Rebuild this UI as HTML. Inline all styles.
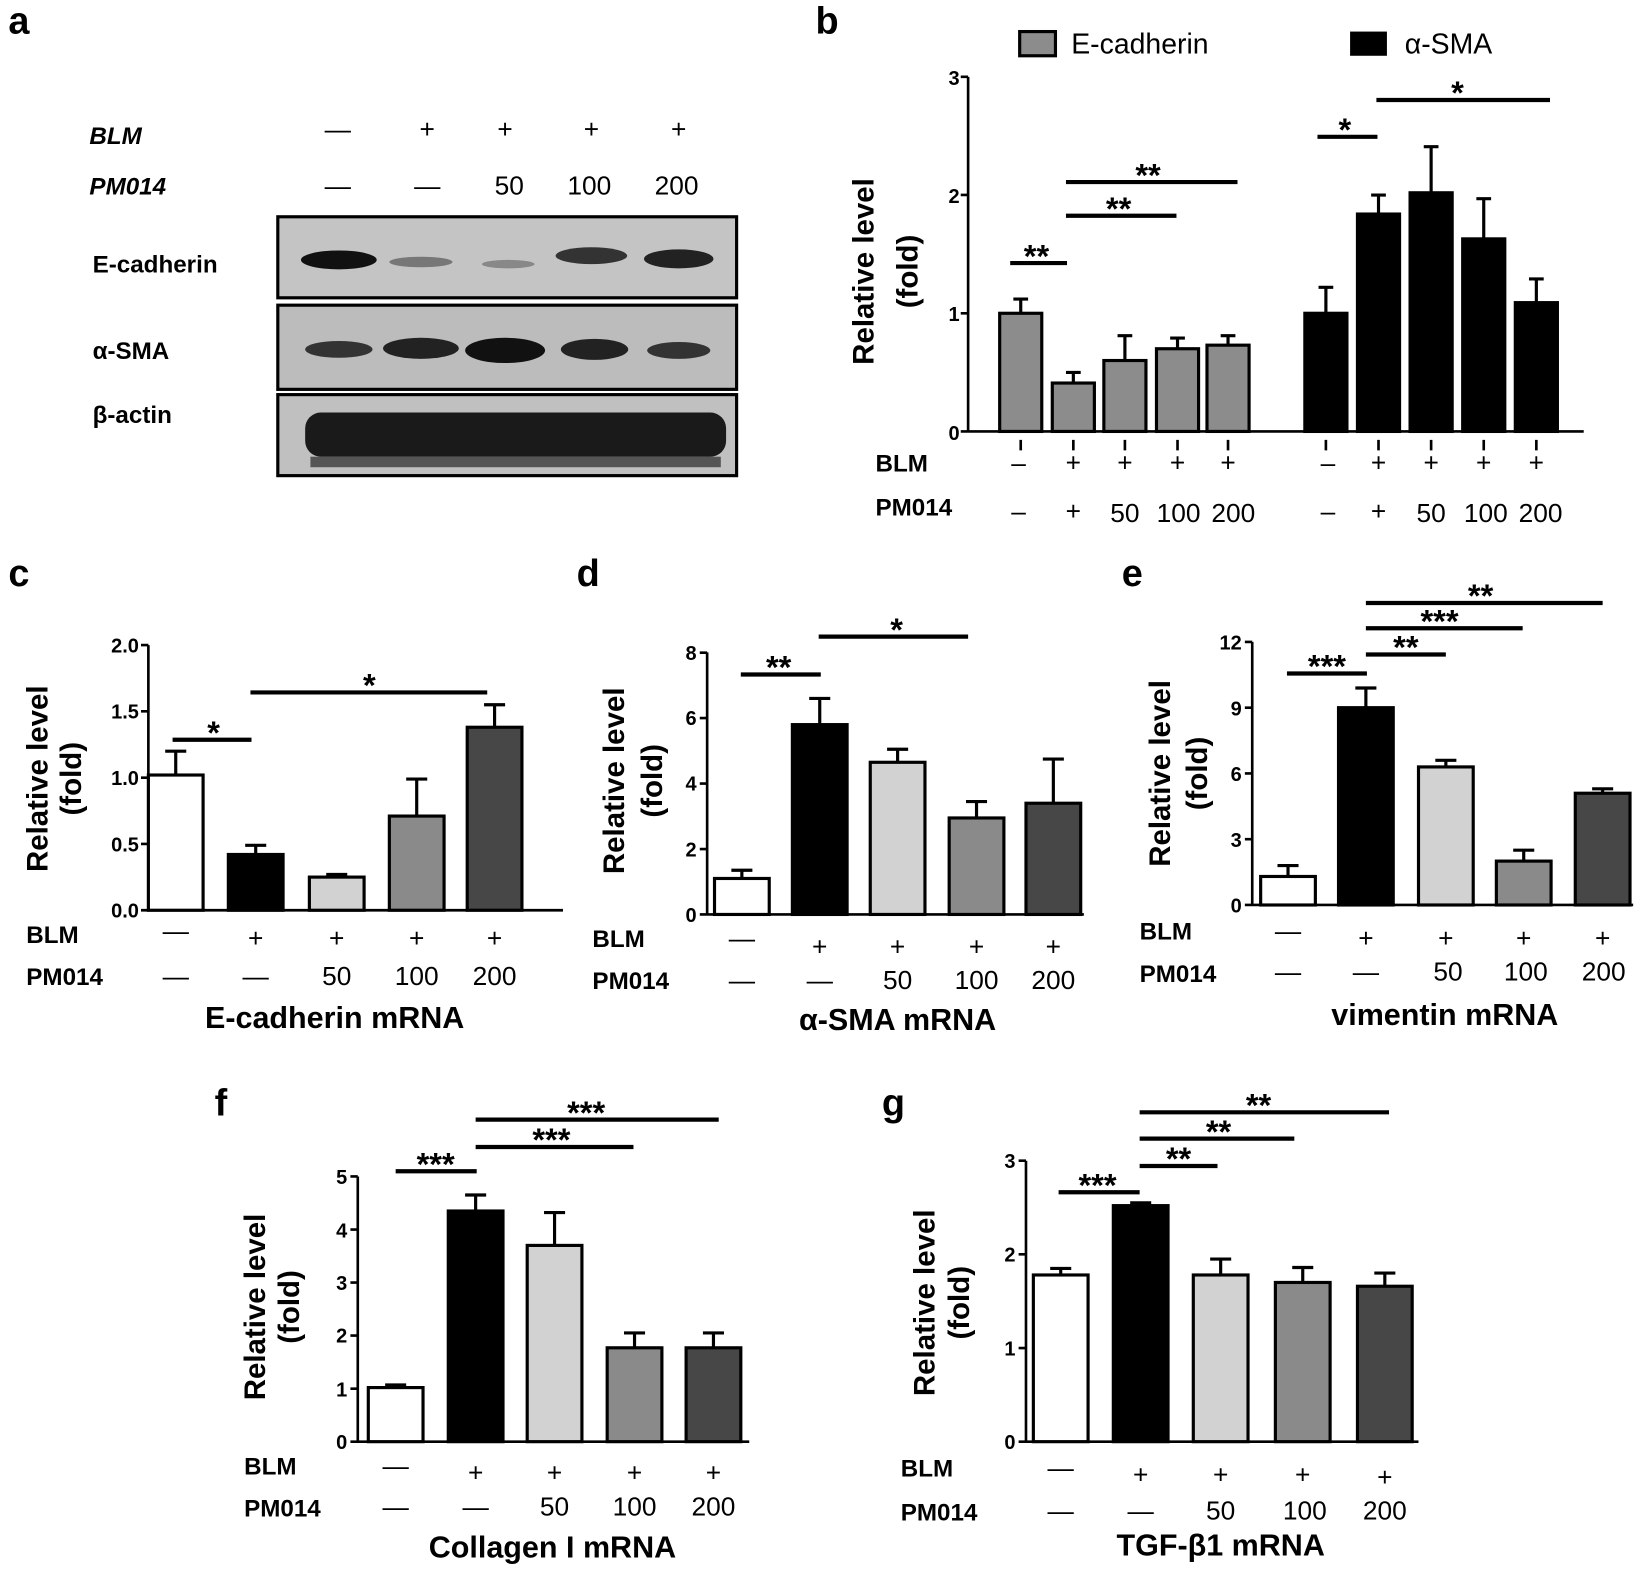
<!DOCTYPE html><html><head><style>
html,body{margin:0;padding:0;background:#fff}
svg{display:block}
text{font-family:"Liberation Sans",sans-serif;fill:#000}
.L{font-size:36px;font-weight:bold}
.R{font-size:23px;font-weight:bold}
.t{font-size:19px;font-weight:bold}
.n{font-size:25px}
.T{font-size:29px;font-weight:bold}
.Y{font-size:28px;font-weight:bold}
.s{font-size:31px;font-weight:bold}
</style></head><body>
<svg width="1650" height="1569" viewBox="0 0 1568 1491" preserveAspectRatio="none" xmlns="http://www.w3.org/2000/svg">
<!-- panel a -->
<text class="L" x="8" y="32">a</text>
<text class="R" x="85" y="137" font-style="italic" font-size="27">BLM</text>
<text class="R" x="85" y="185" font-style="italic" font-size="27">PM014</text>
<g class="n" text-anchor="middle" font-size="27">
<text x="321" y="131">—</text><text x="406" y="131">+</text><text x="480" y="131">+</text><text x="562" y="131">+</text><text x="645" y="131">+</text>
<text x="321" y="185">—</text><text x="406" y="185">—</text><text x="484" y="185">50</text><text x="560" y="185">100</text><text x="643" y="185">200</text>
</g>
<text class="R" x="88" y="259" font-size="26">E-cadherin</text>
<text class="R" x="88" y="341" font-size="26">α-SMA</text>
<text class="R" x="88" y="402" font-size="26">β-actin</text>
<g stroke="#000" stroke-width="3">
<rect x="264" y="206" width="436" height="77" fill="#c4c4c4"/>
<rect x="264" y="290" width="436" height="80" fill="#bcbcbc"/>
<rect x="264" y="375" width="436" height="77" fill="#c0c0c0"/>
</g>
<g fill="#111">
<ellipse cx="322" cy="247" rx="36" ry="9"/>
<ellipse cx="400" cy="249" rx="30" ry="5" fill="#777"/>
<ellipse cx="483" cy="251" rx="25" ry="4" fill="#888"/>
<ellipse cx="562" cy="243" rx="34" ry="8" fill="#333"/>
<ellipse cx="645" cy="246" rx="33" ry="9" fill="#222"/>
<ellipse cx="322" cy="332" rx="32" ry="8" fill="#333"/>
<ellipse cx="400" cy="331" rx="36" ry="10" fill="#222"/>
<ellipse cx="480" cy="333" rx="38" ry="12"/>
<ellipse cx="565" cy="332" rx="32" ry="10" fill="#222"/>
<ellipse cx="645" cy="333" rx="30" ry="8" fill="#333"/>
<rect x="290" y="392" width="400" height="42" rx="15" fill="#1a1a1a"/>
<rect x="295" y="434" width="390" height="10" fill="#555"/>
</g>
<!-- panel b -->
<text class="L" x="775" y="32">b</text>
<rect x="969" y="30" width="34" height="23" fill="#8c8c8c" stroke="#000" stroke-width="3"/>
<text x="1018" y="51" font-size="27">E-cadherin</text>
<rect x="1283" y="30" width="35" height="23" fill="#000"/>
<text x="1335" y="51" font-size="27">α-SMA</text>
<g stroke="#000" stroke-width="2.5" fill="none">
<path d="M920 73V410H1505M913 73H920M913 185.3H920M913 297.7H920M913 410H920"/>
<path d="M970 418v10M1020 418v10M1069 418v10M1119 418v10M1167 418v10M1260 418v10M1310 418v10M1360 418v10M1410 418v10M1460 418v10"/>
</g>
<g class="t" text-anchor="end" font-size="22"><text x="912" y="81">3</text><text x="912" y="193">2</text><text x="912" y="305">1</text><text x="912" y="418">0</text></g>
<text class="Y" transform="translate(830,258) rotate(-90)" text-anchor="middle" font-size="32">Relative  level</text>
<text class="Y" transform="translate(872,258) rotate(-90)" text-anchor="middle" font-size="30">(fold)</text>
<g stroke="#000" stroke-width="3">
<path d="M970 297.7V284.2M963 284.2h14M1020 364V353.9M1013 353.9h14M1069 342.6V319M1062 319h14M1119 331.4V321.3M1112 321.3h14M1167 328V319M1160 319h14"/>
<path d="M1260 297.7V273M1253 273h14M1310 203.4V185.4M1303 185.4h14M1360 183.2V139.4M1353 139.4h14M1410 227V188.8M1403 188.8h14M1460 287.6V265.1M1453 265.1h14"/>
<g fill="#8c8c8c"><rect x="950" y="297.7" width="40" height="112.3"/><rect x="1000" y="364" width="40" height="46"/><rect x="1049" y="342.6" width="40" height="67.4"/><rect x="1099" y="331.4" width="40" height="78.6"/><rect x="1147" y="328" width="40" height="82"/></g>
<g fill="#000"><rect x="1240" y="297.7" width="40" height="112.3"/><rect x="1290" y="203.4" width="40" height="206.6"/><rect x="1340" y="183.2" width="40" height="226.8"/><rect x="1390" y="227" width="40" height="183"/><rect x="1440" y="287.6" width="40" height="122.4"/></g>
<path stroke-width="4" d="M960 250h54M1013 205h105M1013 173h163M1252 130h57M1308 95h165"/>
</g>
<g class="s" text-anchor="middle"><text x="985" y="254">**</text><text x="1063" y="209">**</text><text x="1091" y="177">**</text><text x="1278" y="134">*</text><text x="1385" y="99">*</text></g>
<g class="R" font-size="25"><text x="832" y="448">BLM</text><text x="832" y="490">PM014</text></g>
<g class="n" text-anchor="middle" font-size="27">
<text x="968" y="448">–</text><text x="1020" y="448">+</text><text x="1069" y="448">+</text><text x="1119" y="448">+</text><text x="1167" y="448">+</text>
<text x="1262" y="448">–</text><text x="1310" y="448">+</text><text x="1360" y="448">+</text><text x="1410" y="448">+</text><text x="1460" y="448">+</text>
<text x="968" y="494">–</text><text x="1020" y="494">+</text><text x="1069" y="496">50</text><text x="1120" y="496">100</text><text x="1172" y="496">200</text>
<text x="1262" y="494">–</text><text x="1310" y="494">+</text><text x="1360" y="496">50</text><text x="1412" y="496">100</text><text x="1464" y="496">200</text>
</g>
<!-- panel c -->
<text class="L" x="8" y="557">c</text>
<g stroke="#000" stroke-width="2.5" fill="none"><path d="M141 613V865H535M134 613h7M134 676h7M134 739h7M134 802h7M134 865h7"/></g>
<g class="t" text-anchor="end"><text x="132" y="620">2.0</text><text x="132" y="683">1.5</text><text x="132" y="746">1.0</text><text x="132" y="809">0.5</text><text x="132" y="872">0.0</text></g>
<text class="Y" transform="translate(45,740) rotate(-90)" text-anchor="middle">Relative level</text>
<text class="Y" transform="translate(77,740) rotate(-90)" text-anchor="middle" font-size="22">(fold)</text>
<g stroke="#000" stroke-width="3">
<path d="M167 736.5V713.8M157 713.8h20M243 812V803.3M233 803.3h20M320 833.5V831M310 831h20M396 775.5V740.3M386 740.3h20M470 691.1V669.7M460 669.7h20"/>
<rect x="141" y="736.5" width="52" height="128.5" fill="#fff"/><rect x="217" y="812" width="52" height="53" fill="#000"/><rect x="294" y="833.5" width="52" height="31.5" fill="#d2d2d2"/><rect x="370" y="775.5" width="52" height="89.5" fill="#8a8a8a"/><rect x="444" y="691.1" width="52" height="173.9" fill="#474747"/>
<path stroke-width="4" d="M164 703h75M238 658h225"/>
</g>
<g class="s" text-anchor="middle"><text x="203" y="707">*</text><text x="351" y="662">*</text></g>
<g class="R"><text x="25" y="896">BLM</text><text x="25" y="936">PM014</text></g>
<g class="n" text-anchor="middle"><text x="167" y="893">—</text><text x="243" y="900">+</text><text x="320" y="900">+</text><text x="396" y="900">+</text><text x="470" y="900">+</text>
<text x="167" y="936">—</text><text x="243" y="936">—</text><text x="320" y="936">50</text><text x="396" y="936">100</text><text x="470" y="936">200</text></g>
<text class="T" x="318" y="977" text-anchor="middle">E-cadherin mRNA</text>
<!-- panel d -->
<text class="L" x="548" y="557">d</text>
<g stroke="#000" stroke-width="2.5" fill="none"><path d="M672 620V869H1030M665 620.2h7M665 682.4h7M665 744.6h7M665 806.8h7M665 869h7"/></g>
<g class="t" text-anchor="end"><text x="662" y="627">8</text><text x="662" y="689">6</text><text x="662" y="751">4</text><text x="662" y="814">2</text><text x="662" y="876">0</text></g>
<text class="Y" transform="translate(593,742) rotate(-90)" text-anchor="middle">Relative level</text>
<text class="Y" transform="translate(629,742) rotate(-90)" text-anchor="middle" font-size="24">(fold)</text>
<g stroke="#000" stroke-width="3">
<path d="M705 834.8V827M695 827h20M779 688.6V663.7M769 663.7h20M853 724.4V712M843 712h20M928 777.3V761.7M918 761.7h20M1001 763.3V721.3M991 721.3h20"/>
<rect x="679" y="834.8" width="52" height="34.2" fill="#fff"/><rect x="753" y="688.6" width="52" height="180.4" fill="#000"/><rect x="827" y="724.4" width="52" height="144.6" fill="#d2d2d2"/><rect x="902" y="777.3" width="52" height="91.7" fill="#8a8a8a"/><rect x="975" y="763.3" width="52" height="105.7" fill="#474747"/>
<path stroke-width="4" d="M704 641h76M778 605h142"/>
</g>
<g class="s" text-anchor="middle"><text x="740" y="645">**</text><text x="852" y="609">*</text></g>
<g class="R"><text x="563" y="900">BLM</text><text x="563" y="940">PM014</text></g>
<g class="n" text-anchor="middle"><text x="705" y="900">—</text><text x="779" y="908">+</text><text x="853" y="908">+</text><text x="928" y="908">+</text><text x="1001" y="908">+</text>
<text x="705" y="940">—</text><text x="779" y="940">—</text><text x="853" y="940">50</text><text x="928" y="940">100</text><text x="1001" y="940">200</text></g>
<text class="T" x="853" y="979" text-anchor="middle">α-SMA mRNA</text>
<!-- panel e -->
<text class="L" x="1066" y="557">e</text>
<g stroke="#000" stroke-width="2.5" fill="none"><path d="M1190 610V860H1552M1183 610h7M1183 672.5h7M1183 735h7M1183 797.5h7M1183 860h7"/></g>
<g class="t" text-anchor="end"><text x="1180" y="617">12</text><text x="1180" y="680">9</text><text x="1180" y="742">6</text><text x="1180" y="805">3</text><text x="1180" y="867">0</text></g>
<text class="Y" transform="translate(1112,735) rotate(-90)" text-anchor="middle">Relative level</text>
<text class="Y" transform="translate(1147,735) rotate(-90)" text-anchor="middle" font-size="24">(fold)</text>
<g stroke="#000" stroke-width="3">
<path d="M1224 832.9V822.5M1214 822.5h20M1298 672.5V653.8M1288 653.8h20M1374 728.8V722.5M1364 722.5h20M1448 818.3V807.9M1438 807.9h20M1523 753.8V749.6M1513 749.6h20"/>
<rect x="1198" y="832.9" width="52" height="27.1" fill="#fff"/><rect x="1272" y="672.5" width="52" height="187.5" fill="#000"/><rect x="1348" y="728.8" width="52" height="131.2" fill="#d2d2d2"/><rect x="1422" y="818.3" width="52" height="41.7" fill="#8a8a8a"/><rect x="1497" y="753.8" width="52" height="106.2" fill="#474747"/>
<path stroke-width="4" d="M1223 640h76M1298 622h76M1298 597h149M1298 573h225"/>
</g>
<g class="s" text-anchor="middle"><text x="1261" y="644">***</text><text x="1336" y="626">**</text><text x="1368" y="601">***</text><text x="1407" y="577">**</text></g>
<g class="R"><text x="1083" y="893">BLM</text><text x="1083" y="933">PM014</text></g>
<g class="n" text-anchor="middle"><text x="1224" y="893">—</text><text x="1298" y="900">+</text><text x="1374" y="900">+</text><text x="1448" y="900">+</text><text x="1523" y="900">+</text>
<text x="1224" y="932">—</text><text x="1298" y="932">—</text><text x="1376" y="932">50</text><text x="1450" y="932">100</text><text x="1524" y="932">200</text></g>
<text class="T" x="1373" y="974" text-anchor="middle">vimentin mRNA</text>
<!-- panel f -->
<text class="L" x="204" y="1060">f</text>
<g stroke="#000" stroke-width="2.5" fill="none"><path d="M340 1118V1370H712M333 1118h7M333 1168.4h7M333 1218.8h7M333 1269.2h7M333 1319.6h7M333 1370h7"/></g>
<g class="t" text-anchor="end"><text x="330" y="1125">5</text><text x="330" y="1176">4</text><text x="330" y="1226">3</text><text x="330" y="1276">2</text><text x="330" y="1327">1</text><text x="330" y="1377">0</text></g>
<text class="Y" transform="translate(252,1242) rotate(-90)" text-anchor="middle">Relative level</text>
<text class="Y" transform="translate(284,1242) rotate(-90)" text-anchor="middle" font-size="22">(fold)</text>
<g stroke="#000" stroke-width="3">
<path d="M376 1318.6V1316.1M366 1316.1h20M452 1150.8V1135.6M442 1135.6h20M527 1183.5V1152.3M517 1152.3h20M603 1280.8V1266.7M593 1266.7h20M678 1280.8V1266.7M668 1266.7h20"/>
<rect x="350" y="1318.6" width="52" height="51.4" fill="#fff"/><rect x="426" y="1150.8" width="52" height="219.2" fill="#000"/><rect x="501" y="1183.5" width="52" height="186.5" fill="#d2d2d2"/><rect x="577" y="1280.8" width="52" height="89.2" fill="#8a8a8a"/><rect x="652" y="1280.8" width="52" height="89.2" fill="#474747"/>
<path stroke-width="4" d="M376 1113h77M452 1090h150M452 1064h231"/>
</g>
<g class="s" text-anchor="middle"><text x="414" y="1117">***</text><text x="524" y="1094">***</text><text x="557" y="1068">***</text></g>
<g class="R"><text x="232" y="1401">BLM</text><text x="232" y="1441">PM014</text></g>
<g class="n" text-anchor="middle"><text x="376" y="1401">—</text><text x="452" y="1408">+</text><text x="527" y="1408">+</text><text x="603" y="1408">+</text><text x="678" y="1408">+</text>
<text x="376" y="1440">—</text><text x="452" y="1440">—</text><text x="527" y="1440">50</text><text x="603" y="1440">100</text><text x="678" y="1440">200</text></g>
<text class="T" x="525" y="1480" text-anchor="middle">Collagen I mRNA</text>
<!-- panel g -->
<text class="L" x="838" y="1060">g</text>
<g stroke="#000" stroke-width="2.5" fill="none"><path d="M975 1103V1370H1348M968 1103h7M968 1192h7M968 1281h7M968 1370h7"/></g>
<g class="t" text-anchor="end"><text x="965" y="1110">3</text><text x="965" y="1199">2</text><text x="965" y="1288">1</text><text x="965" y="1377">0</text></g>
<text class="Y" transform="translate(888,1238) rotate(-90)" text-anchor="middle">Relative level</text>
<text class="Y" transform="translate(921,1238) rotate(-90)" text-anchor="middle" font-size="24">(fold)</text>
<g stroke="#000" stroke-width="3">
<path d="M1008 1211.6V1205.4M998 1205.4h20M1084 1145.7V1143M1074 1143h20M1160 1211.6V1196.5M1150 1196.5h20M1238 1218.7V1204.5M1228 1204.5h20M1316 1222.3V1209.8M1306 1209.8h20"/>
<rect x="982" y="1211.6" width="52" height="158.4" fill="#fff"/><rect x="1058" y="1145.7" width="52" height="224.3" fill="#000"/><rect x="1134" y="1211.6" width="52" height="158.4" fill="#d2d2d2"/><rect x="1212" y="1218.7" width="52" height="151.3" fill="#8a8a8a"/><rect x="1290" y="1222.3" width="52" height="147.7" fill="#474747"/>
<path stroke-width="4" d="M1006 1133h77M1083 1108h74M1083 1082h147M1083 1057h237"/>
</g>
<g class="s" text-anchor="middle"><text x="1043" y="1137">***</text><text x="1120" y="1112">**</text><text x="1158" y="1086">**</text><text x="1196" y="1061">**</text></g>
<g class="R"><text x="856" y="1403">BLM</text><text x="856" y="1445">PM014</text></g>
<g class="n" text-anchor="middle"><text x="1008" y="1403">—</text><text x="1084" y="1410">+</text><text x="1160" y="1410">+</text><text x="1238" y="1410">+</text><text x="1316" y="1412">+</text>
<text x="1008" y="1444">—</text><text x="1084" y="1444">—</text><text x="1160" y="1444">50</text><text x="1240" y="1444">100</text><text x="1316" y="1444">200</text></g>
<text class="T" x="1160" y="1478" text-anchor="middle">TGF-β1 mRNA</text>
</svg>
</body></html>
